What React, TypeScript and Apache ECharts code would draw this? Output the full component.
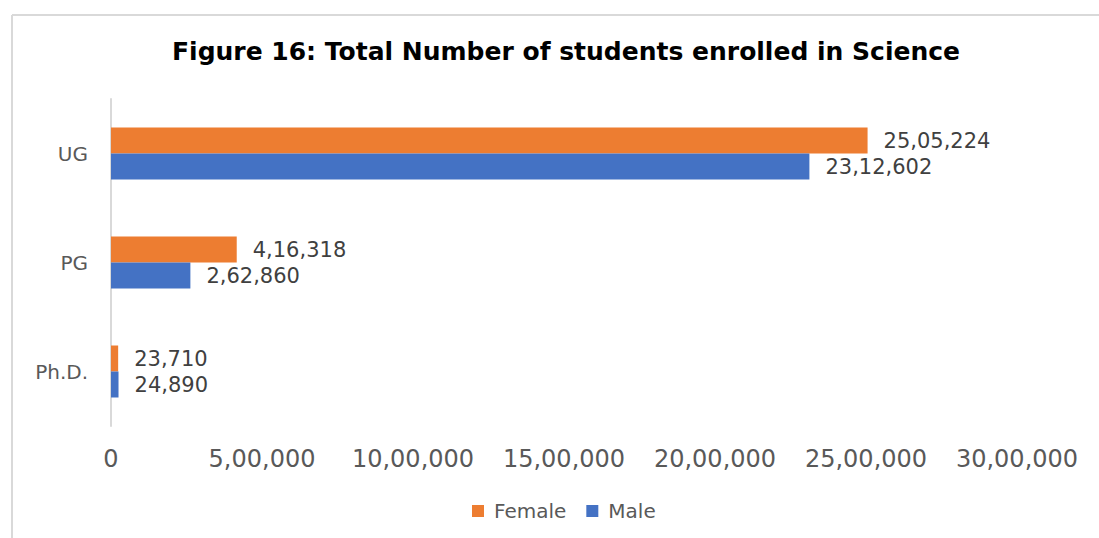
import React, { useEffect, useRef } from "react";
import * as echarts from "echarts";

const categories = ["Ph.D.", "PG", "UG"];
const femaleValues = [23710, 416318, 2505224];
const maleValues = [24890, 262860, 2312602];
const seriesNames = ["Female", "Male"];
const xTicks = [0, 500000, 1000000, 1500000, 2000000, 2500000, 3000000];
const titleText = "Figure 16: Total Number of students enrolled in Science";

function formatIndian(n: number): string {
  const s = Math.round(n).toString();
  if (s.length <= 3) return s;
  const last3 = s.slice(-3);
  let rest = s.slice(0, -3);
  const parts: string[] = [];
  while (rest.length > 2) {
    parts.unshift(rest.slice(-2));
    rest = rest.slice(0, -2);
  }
  if (rest.length) parts.unshift(rest);
  return parts.join(",") + "," + last3;
}

const FONT = "'DejaVu Sans', 'Open Sans', sans-serif";

export default function App() {
  const ref = useRef<HTMLDivElement>(null);
  useEffect(() => {
    document.body.style.margin = "0";
    if (!ref.current) return;
    const chart = echarts.init(ref.current, undefined, { renderer: "svg" });
    const labelStyle = {
      show: true,
      position: "right" as const,
      distance: 16,
      fontSize: 21,
      color: "#404040",
      fontFamily: FONT,
      formatter: (p: any) => formatIndian(p.value),
    };
    chart.setOption({
      animation: false,
      backgroundColor: "#ffffff",
      title: {
        text: titleText,
        left: 561,
        textAlign: "center",
        top: 34,
        textStyle: { fontSize: 25, fontWeight: "bold", color: "#000000", fontFamily: FONT },
      },
      graphic: [
        { type: "line", shape: { x1: 12, y1: 15, x2: 1099, y2: 15 }, style: { stroke: "#d9d9d9", lineWidth: 2 } },
        { type: "line", shape: { x1: 12, y1: 15, x2: 12, y2: 538 }, style: { stroke: "#d9d9d9", lineWidth: 2 } },
      ],
      legend: {
        data: seriesNames,
        top: 496,
        left: 467,
        itemWidth: 12,
        itemHeight: 12,
        itemGap: 20,
        icon: "rect",
        textStyle: { fontSize: 20, color: "#595959", fontFamily: FONT, padding: [0, 0, 0, 5] },
      },
      grid: { left: 111, right: 82, top: 99, bottom: 112, containLabel: false },
      xAxis: {
        type: "value",
        min: xTicks[0],
        max: xTicks[xTicks.length - 1],
        interval: xTicks[1] - xTicks[0],
        axisLine: { show: false },
        axisTick: { show: false },
        splitLine: { show: false },
        axisLabel: {
          fontSize: 24,
          color: "#595959",
          fontFamily: FONT,
          margin: 21,
          formatter: (v: number) => formatIndian(v),
        },
      },
      yAxis: {
        type: "category",
        data: categories,
        axisLine: { show: true, lineStyle: { color: "#d9d9d9", width: 2 } },
        axisTick: { show: false },
        axisLabel: { fontSize: 20, color: "#595959", fontFamily: FONT, margin: 23 },
      },
      series: [
        {
          name: seriesNames[0],
          type: "bar",
          data: femaleValues,
          barWidth: 26,
          barGap: "0%",
          itemStyle: { color: "#ED7D31" },
          label: labelStyle,
        },
        {
          name: seriesNames[1],
          type: "bar",
          data: maleValues,
          barWidth: 26,
          barGap: "0%",
          itemStyle: { color: "#4472C4" },
          label: labelStyle,
        },
      ],
    });
    return () => chart.dispose();
  }, []);
  return <div ref={ref} style={{ width: 1099, height: 538 }} />;
}
